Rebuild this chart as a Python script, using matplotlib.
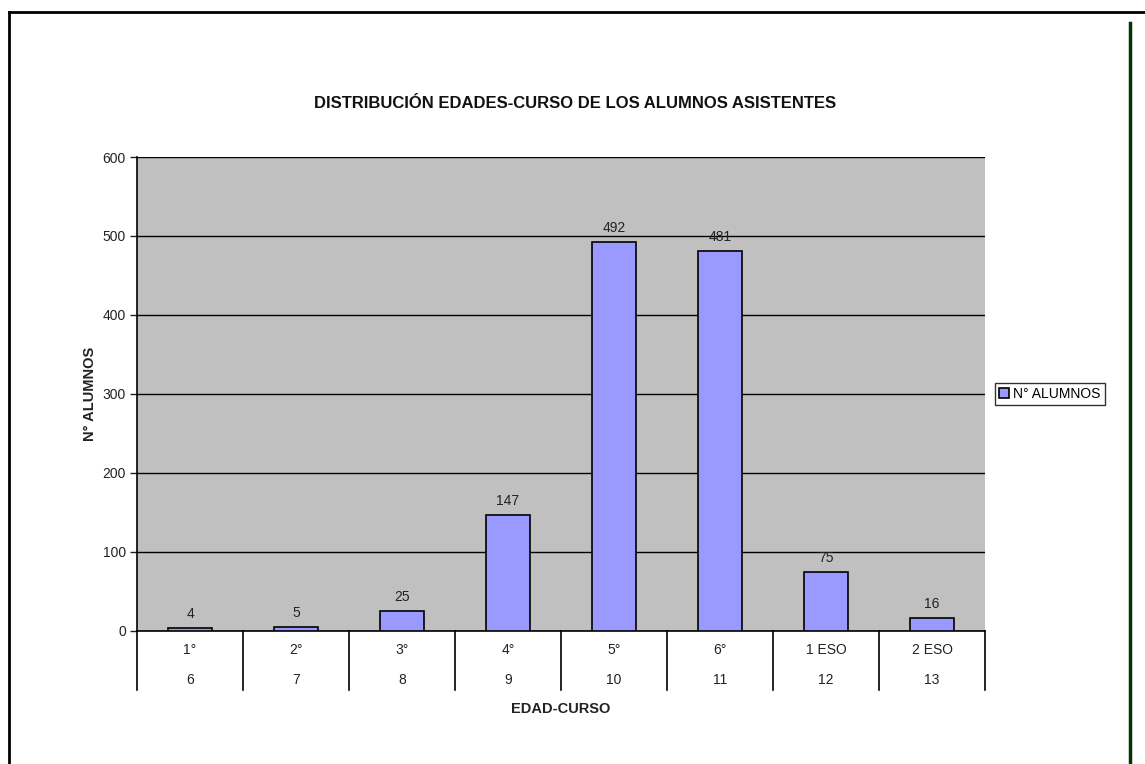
import matplotlib
matplotlib.use("Agg")
import matplotlib.pyplot as plt
from matplotlib.lines import Line2D
import numpy as np

plt.rcParams['font.family'] = ['Liberation Sans', 'DejaVu Sans']

cursos = ['1°', '2°', '3°', '4°', '5°', '6°', '1 ESO', '2 ESO']
edades = ['6', '7', '8', '9', '10', '11', '12', '13']
alumnos = [4, 5, 25, 147, 492, 481, 75, 16]

fig = plt.figure(figsize=(11.45, 7.64), dpi=100)
ax = fig.add_axes([0.1197, 0.1741, 0.7406, 0.6204])
ax.set_facecolor('#C0C0C0')

x = np.arange(len(cursos))
bars = ax.bar(x, alumnos, width=0.42, color='#9999FF', edgecolor='black',
              linewidth=1.2, label='N° ALUMNOS', zorder=3)
for b, v in zip(bars, alumnos):
    ax.annotate(str(v), (b.get_x() + b.get_width() / 2, v), xytext=(0, 5),
                textcoords='offset points', ha='center', va='bottom', fontsize=10, color='#222222')

ax.set_xlim(-0.5, len(cursos) - 0.5)
ax.set_ylim(0, 600)
ax.set_yticks(range(0, 601, 100))
ax.yaxis.grid(True, color='black', linewidth=1, zorder=1)
ax.set_axisbelow(True)
ax.tick_params(axis='y', direction='out', length=5, width=1, labelsize=10, pad=3, colors='#222222')
ax.tick_params(axis='x', length=0, labelbottom=False)
for s in ['top', 'right']:
    ax.spines[s].set_visible(False)
ax.spines['left'].set_linewidth(1.2)
ax.spines['bottom'].set_linewidth(1.2)

# two row category labels
trans = ax.get_xaxis_transform()
for i in x:
    ax.text(i, -0.040, cursos[i], transform=trans, ha='center', va='center', fontsize=10, color='#222222')
    ax.text(i, -0.103, edades[i], transform=trans, ha='center', va='center', fontsize=10, color='#222222')
for b in np.arange(len(cursos) + 1) - 0.5:
    ax.plot([b, b], [0, -0.124], transform=trans, color='black', linewidth=1.2, clip_on=False)

ax.text(0.5, -0.165, 'EDAD-CURSO', transform=ax.transAxes, ha='center', va='center',
        fontsize=10.5, fontweight='bold', color='#222222')
ax.set_ylabel('N° ALUMNOS', fontsize=10.5, fontweight='bold', color='#222222', labelpad=4)

fig.text(575 / 1145, 1 - 104 / 764, 'DISTRIBUCIÓN EDADES-CURSO DE LOS ALUMNOS ASISTENTES',
         ha='center', va='center', fontsize=12, fontweight='bold', color='#111111')

leg = fig.legend(handles=[bars], labels=['N° ALUMNOS'], loc='center left',
                 bbox_to_anchor=(0.869, 1 - 394 / 764), fontsize=10, frameon=True,
                 fancybox=False, handlelength=0.7, handleheight=0.7, handletextpad=0.3,
                 borderpad=0.3, borderaxespad=0)
leg.get_frame().set_edgecolor('black')
leg.get_frame().set_linewidth(1)

# page frame
fig.add_artist(Line2D([9 / 1145, 9 / 1145], [0, 1 - 12 / 764], color='black', linewidth=2))
fig.add_artist(Line2D([9 / 1145, 1], [1 - 12 / 764, 1 - 12 / 764], color='black', linewidth=2))
fig.add_artist(Line2D([1130 / 1145, 1130 / 1145], [0, 1 - 23 / 764], color='#003300', linewidth=2.5))

fig.savefig('out.png', dpi=100)
